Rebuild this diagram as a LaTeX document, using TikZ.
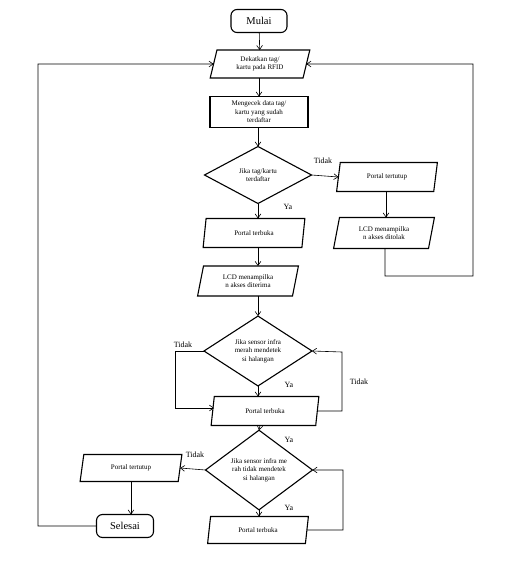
\documentclass[tikz,border=0pt]{standalone}
\usepackage{fontspec}
\setmainfont{Liberation Serif}
\usetikzlibrary{shapes.geometric,arrows.meta}
\begin{document}
\begin{tikzpicture}[x=1pt,y=-1pt,
  every node/.style={inner sep=0pt, outer sep=0pt},
  box/.style={draw, line width=1.1pt, font=\fontsize{7}{8.5}\selectfont, align=center},
  term/.style={box, rounded corners=6pt, font=\fontsize{10.5}{12}\selectfont},
  proc/.style={box, rectangle},
  io/.style={box, trapezium, trapezium left angle=76, trapezium right angle=104, trapezium stretches=true},
  dec/.style={box, diamond},
  lbl/.style={font=\fontsize{8}{9}\selectfont},
  conn/.style={draw, line width=0.6pt},
  arr/.style={conn, -{Straight Barb[angle=70:5pt]}}]
\useasboundingbox (0,0) rectangle (510,568);
\fill[white] (0,0) rectangle (510,568);

\node[term, minimum width=56pt, minimum height=23pt] (mulai) at (259,21) {Mulai};
\node[io, minimum width=100pt, minimum height=28pt] (dekat) at (260,64) {Dekatkan tag/\\kartu pada RFID};
\node[proc, minimum width=98pt, minimum height=31pt] (cek) at (259,112) {Mengecek data tag/\\kartu yang sudah\\terdaftar};
\node[dec, minimum width=107pt, minimum height=57pt] (d1) at (258,175) {Jika tag/kartu\\terdaftar};
\node[io, minimum width=101pt, minimum height=29pt] (tutup1) at (387,177) {Portal tertutup};
\node[io, minimum width=101pt, minimum height=31pt] (tolak) at (384,233) {LCD menampilka\\n akses ditolak};
\node[io, minimum width=102pt, minimum height=29pt] (buka1) at (254,233) {Portal terbuka};
\node[io, minimum width=101pt, minimum height=30pt] (terima) at (248,281) {LCD menampilka\\n akses diterima};
\node[dec, minimum width=108pt, minimum height=60pt] (d2) at (258,351) {Jika sensor infra\\merah mendetek\\si halangan};
\node[io, minimum width=108pt, minimum height=29pt] (buka2) at (265,411) {Portal terbuka};
\node[dec, minimum width=107pt, minimum height=56pt] (d3) at (259,470) {Jika sensor infra me\\rah tidak  mendetek\\si halangan};
\node[io, minimum width=102pt, minimum height=27pt] (tutup2) at (131,468) {Portal tertutup};
\node[term, minimum width=57pt, minimum height=23pt] (selesai) at (125,526) {Selesai};
\node[io, minimum width=101pt, minimum height=27pt] (buka3) at (258,530) {Portal terbuka};

\coordinate (c1) at (385,276);
\coordinate (c2) at (473,276);
\coordinate (c3) at (473,64);
\coordinate (c4) at (38,526);
\coordinate (c5) at (38,64);
\coordinate (c6) at (175,351);
\coordinate (c7) at (175,408);
\coordinate (c12) at (214,408);
\coordinate (c8) at (342,411);
\coordinate (c9) at (342,352);
\coordinate (c10) at (343,530);
\coordinate (c11) at (343,470);

\draw[arr] (mulai) -- (dekat);
\draw[arr] (dekat.south -| 259,0) -- (cek.north -| 259,0);
\draw[arr] (cek.south -| 258,0) -- (d1.north);
\draw[arr] (d1.east) -- (tutup1.west);
\draw[arr] (tutup1.south -| 386,0) -- (tolak.north -| 386,0);
\draw[arr] (tolak.south -| 385,0) -- (c1) -- (c2) -- (c3) -- (dekat.east);
\draw[arr] (d1.south) -- (buka1.north -| d1.south);
\draw[arr] (buka1.south -| 258,0) -- (terima.north -| 258,0);
\draw[arr] (terima.south -| 258,0) -- (d2.north);
\draw[arr] (d2.west) -- (c6) -- (c7) -- (c12);
\draw[arr] (d2.south) -- (buka2.north -| d2.south);
\draw[arr] (buka2.east) -- (c8) -- (c9) -- (d2.east);
\draw[arr] (buka2.south -| 260,0) -- (d3.north);
\draw[arr] (d3.west) -- (tutup2.east);
\draw[arr] (tutup2.south) -- (selesai.north -| tutup2.south);
\draw[arr] (d3.south) -- (buka3.north -| d3.south);
\draw[arr] (buka3.east) -- (c10) -- (c11) -- (d3.east);
\draw[arr] (selesai.west) -- (c4) -- (c5) -- (dekat.west);

\node[lbl] (l1) at (323,161) {Tidak};
\node[lbl] (l2) at (288,207) {Ya};
\node[lbl] (l3) at (183,345) {Tidak};
\node[lbl] (l4) at (289,385) {Ya};
\node[lbl] (l5) at (359,382) {Tidak};
\node[lbl] (l6) at (289,440) {Ya};
\node[lbl] (l7) at (195,455) {Tidak};
\node[lbl] (l8) at (289,508) {Ya};
\end{tikzpicture}
\end{document}
